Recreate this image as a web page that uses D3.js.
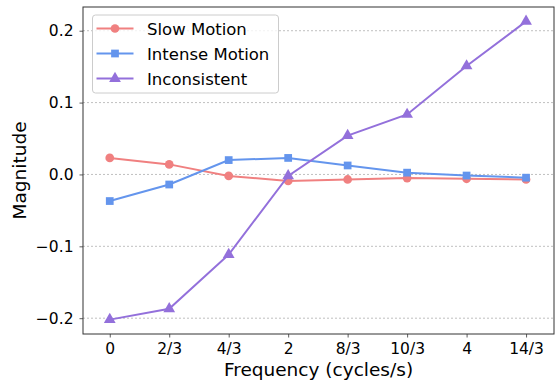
<!DOCTYPE html>
<html lang="en">
<head>
<meta charset="UTF-8">
<title>Magnitude vs Frequency</title>
<script src="https://d3js.org/d3.v7.min.js"></script>
<style>
    body { margin: 0; background: #fff; font-family: "DejaVu Sans", sans-serif; }
    svg { display: block; }
    .tick text { font-family: "DejaVu Sans", sans-serif; font-size: 15.5px; fill: #000; }
    .axis-label { font-size: 18.5px; fill: #000; }
    .legend text { font-size: 16.5px; fill: #000; }
</style>
</head>
<body>
<div id="chart"></div>
<script>
// data
const freqLabels = ["0", "2/3", "4/3", "2", "8/3", "10/3", "4", "14/3"];
const slowMotion = [0.023, 0.014, -0.002, -0.009, -0.007, -0.005, -0.006, -0.007];
const intenseMotion = [-0.037, -0.014, 0.020, 0.023, 0.0125, 0.0025, -0.0015, -0.0045];
const inconsistent = [-0.202, -0.187, -0.1115, -0.002, 0.054, 0.0835, 0.151, 0.213];
const yTicks = [-0.2, -0.1, 0.0, 0.1, 0.2];

const seriesList = [
    { name: "Slow Motion", values: slowMotion, color: "#f08080", shape: d3.symbolCircle },
    { name: "Intense Motion", values: intenseMotion, color: "#6495ed", shape: d3.symbolSquare },
    { name: "Inconsistent", values: inconsistent, color: "#9370db", shape: d3.symbolTriangle }
];

const W = 555, H = 383;
const margin = { top: 7, right: 1, bottom: 49, left: 83 };
const width = W - margin.left - margin.right;
const height = H - margin.top - margin.bottom;

const svg = d3.select("#chart").append("svg")
    .attr("width", W).attr("height", H);
const g = svg.append("g")
    .attr("transform", `translate(${margin.left},${margin.top})`);

const x = d3.scaleLinear().domain([-0.45, 7.47]).range([0, width]);
const y = d3.scaleLinear().domain([-0.222, 0.233]).range([height, 0]);

// grid lines
g.selectAll(".grid").data(yTicks).enter().append("line")
    .attr("x1", 0).attr("x2", width)
    .attr("y1", d => y(d)).attr("y2", d => y(d))
    .attr("stroke", "#b0b0b0").attr("stroke-width", 0.8)
    .attr("stroke-dasharray", "2,2");

// axes
const xAxis = g.append("g")
    .attr("transform", `translate(0,${height})`)
    .call(d3.axisBottom(x).tickValues(d3.range(freqLabels.length))
        .tickFormat(i => freqLabels[i]).tickSize(3.5).tickPadding(5));
const yAxis = g.append("g")
    .call(d3.axisLeft(y).tickValues(yTicks)
        .tickFormat(d => d3.format(".1f")(d).replace("-", "\u2212")).tickSize(3.5).tickPadding(6));
[xAxis, yAxis].forEach(a => {
    a.select(".domain").remove();
    a.selectAll(".tick line").attr("stroke", "#333").attr("stroke-width", 0.8);
});

// frame
g.append("rect")
    .attr("width", width).attr("height", height)
    .attr("fill", "none").attr("stroke", "#333").attr("stroke-width", 1);

// lines and markers
const line = d3.line().x((d, i) => x(i)).y(d => y(d));
seriesList.forEach(s => {
    g.append("path")
        .datum(s.values)
        .attr("fill", "none")
        .attr("stroke", s.color)
        .attr("stroke-width", 2)
        .attr("d", line);
    g.selectAll(null).data(s.values).enter().append("path")
        .attr("transform", (d, i) => `translate(${x(i)},${y(d)})`)
        .attr("d", d3.symbol().type(s.shape).size(60))
        .attr("fill", s.color);
});

// axis labels
svg.append("text")
    .attr("class", "axis-label")
    .attr("x", margin.left + width / 2)
    .attr("y", 376)
    .attr("text-anchor", "middle")
    .text("Frequency (cycles/s)");
svg.append("text")
    .attr("class", "axis-label")
    .attr("transform", `translate(26,${margin.top + height / 2}) rotate(-90)`)
    .attr("text-anchor", "middle")
    .text("Magnitude");

// legend
const legendBox = svg.append("g").attr("class", "legend")
    .attr("transform", "translate(92.5,15)");
legendBox.append("rect")
    .attr("width", 186).attr("height", 78).attr("rx", 3)
    .attr("fill", "#fff").attr("fill-opacity", 0.8)
    .attr("stroke", "#ccc").attr("stroke-width", 1);
const entries = legendBox.selectAll(".entry").data(seriesList).enter().append("g")
    .attr("class", "entry")
    .attr("transform", (d, i) => `translate(0,${13.5 + i * 25})`);
entries.append("line")
    .attr("x1", 4).attr("x2", 41)
    .attr("stroke", d => d.color).attr("stroke-width", 2);
entries.append("path")
    .attr("transform", "translate(22.5,0)")
    .attr("d", d => d3.symbol().type(d.shape).size(60)())
    .attr("fill", d => d.color);
entries.append("text")
    .attr("x", 54.5).attr("y", 6)
    .text(d => d.name);
</script>
</body>
</html>
